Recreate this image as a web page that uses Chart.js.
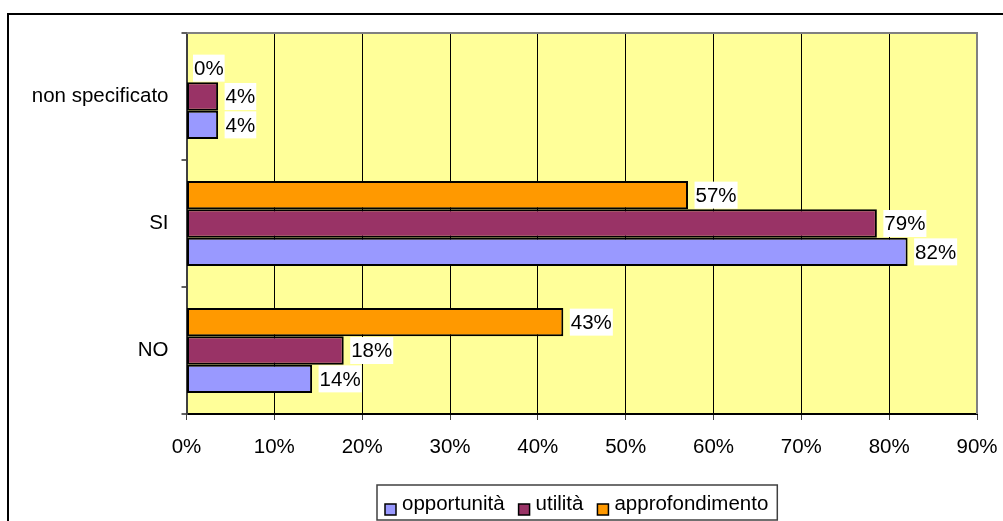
<!DOCTYPE html>
<html>
<head>
<meta charset="utf-8">
<script src="https://cdn.jsdelivr.net/npm/chart.js@4.4.0/dist/chart.umd.min.js"></script>
<style>
  html, body { margin: 0; padding: 0; background: #ffffff; }
  #wrap { width: 1003px; height: 521px; }
</style>
</head>
<body>
<div id="wrap"><canvas id="grafico" width="1003" height="521"></canvas></div>
<script>
// ----------------------- Dati -----------------------------
const categorie = ['non specificato', 'SI', 'NO'];
const opportunita = [3.6, 82.1, 14.3];
const utilita = [3.6, 78.6, 17.9];
const approfondimento = [0, 57.1, 42.9];
const tickX = [0, 10, 20, 30, 40, 50, 60, 70, 80, 90];

const FONT = '"Liberation Sans", Arial, sans-serif';
const SIZE = 20.5;

// --------------- Sfondo giallo e cornice esterna ---------------
const sfondo = {
  id: 'sfondo',
  beforeDraw(chart) {
    const ctx = chart.ctx;
    const a = chart.chartArea;
    ctx.save();
    ctx.fillStyle = '#FFFF99';
    ctx.fillRect(a.left, a.top, a.right - a.left, a.bottom - a.top);
    // cornice del grafico (solo alto e sinistra visibili)
    ctx.strokeStyle = '#000000';
    ctx.lineWidth = 2;
    ctx.beginPath();
    ctx.moveTo(1003, 14);
    ctx.lineTo(8, 14);
    ctx.lineTo(8, 521);
    ctx.stroke();
    ctx.restore();
  },
  afterDraw(chart) {
    const ctx = chart.ctx;
    const a = chart.chartArea;
    ctx.save();
    ctx.strokeStyle = '#808080';
    ctx.lineWidth = 2;
    ctx.beginPath();
    ctx.moveTo(a.left, a.top);
    ctx.lineTo(a.right, a.top);
    ctx.lineTo(a.right, a.bottom);
    ctx.stroke();
    ctx.restore();
  }
};

// --------------- Etichette con valore a destra delle barre ---------------
const etichette = {
  id: 'etichette',
  afterDatasetsDraw(chart) {
    const ctx = chart.ctx;
    ctx.save();
    ctx.font = SIZE + 'px ' + FONT;
    ctx.textBaseline = 'middle';
    chart.data.datasets.forEach((ds, i) => {
      const meta = chart.getDatasetMeta(i);
      meta.data.forEach((bar, j) => {
        const testo = Math.round(ds.data[j]) + '%';
        const w = ctx.measureText(testo).width;
        const x = bar.x + 6.5;
        ctx.fillStyle = '#ffffff';
        ctx.fillRect(x, bar.y - 13.5, w + 2, 27);
        ctx.fillStyle = '#000000';
        ctx.fillText(testo, x + 1, bar.y + 1);
      });
    });
    ctx.restore();
  }
};

// --------------- Legenda in basso con riquadro ---------------
const legenda = {
  id: 'legenda',
  afterDraw(chart) {
    const ctx = chart.ctx;
    const voci = chart.data.datasets.slice().reverse();
    ctx.save();
    ctx.font = SIZE + 'px ' + FONT;
    ctx.textBaseline = 'alphabetic';
    let x = 385;
    voci.forEach((ds) => {
      ctx.fillStyle = ds.backgroundColor;
      ctx.fillRect(x, 504, 11, 11);
      ctx.strokeStyle = '#000000';
      ctx.lineWidth = 1.5;
      ctx.strokeRect(x, 504, 11, 11);
      ctx.fillStyle = '#000000';
      ctx.fillText(ds.label, x + 17, 510);
      x += 17 + ctx.measureText(ds.label).width + 14;
    });
    const destra = x - 14 + 9;
    ctx.strokeStyle = '#404040';
    ctx.lineWidth = 1.5;
    ctx.strokeRect(377, 485, destra - 377, 35);
    ctx.restore();
  }
};

const ctx = document.getElementById('grafico');
new Chart(ctx, {
  type: 'bar',
  data: {
    labels: categorie,
    datasets: [
      { label: 'approfondimento', data: approfondimento, backgroundColor: '#FF9900' },
      { label: 'utilità', data: utilita, backgroundColor: '#993366' },
      { label: 'opportunità', data: opportunita, backgroundColor: '#9999FF' }
    ].map(d => Object.assign(d, {
      borderColor: '#000000',
      borderWidth: 2,
      borderSkipped: false,
      categoryPercentage: 0.67,
      barPercentage: 1
    }))
  },
  options: {
    indexAxis: 'y',
    responsive: false,
    animation: false,
    layout: { padding: { left: 0, right: 26, top: 33, bottom: 0 } },
    scales: {
      x: {
        min: 0,
        max: 90,
        afterBuildTicks: (s) => { s.ticks = tickX.map(v => ({ value: v })); },
        afterFit: (s) => { s.height = 107; s.paddingLeft = 0; s.paddingRight = 0; },
        ticks: {
          color: '#000000',
          padding: 15,
          maxRotation: 0,
          font: { family: FONT, size: SIZE },
          callback: (v) => v + '%'
        },
        grid: { color: '#000000', lineWidth: 1, tickLength: 6, tickColor: '#404040' },
        border: { color: '#000000', width: 2 }
      },
      y: {
        afterFit: (s) => { s.width = 186.5; s.paddingTop = 0; s.paddingBottom = 0; },
        ticks: {
          color: '#000000',
          padding: 13,
          font: { family: FONT, size: SIZE }
        },
        grid: { offset: true, drawOnChartArea: false, tickLength: 5, color: '#606060', lineWidth: 2 },
        border: { color: '#404040', width: 2 }
      }
    },
    plugins: {
      legend: { display: false },
      tooltip: { enabled: false }
    }
  },
  plugins: [sfondo, etichette, legenda]
});
</script>
</body>
</html>
